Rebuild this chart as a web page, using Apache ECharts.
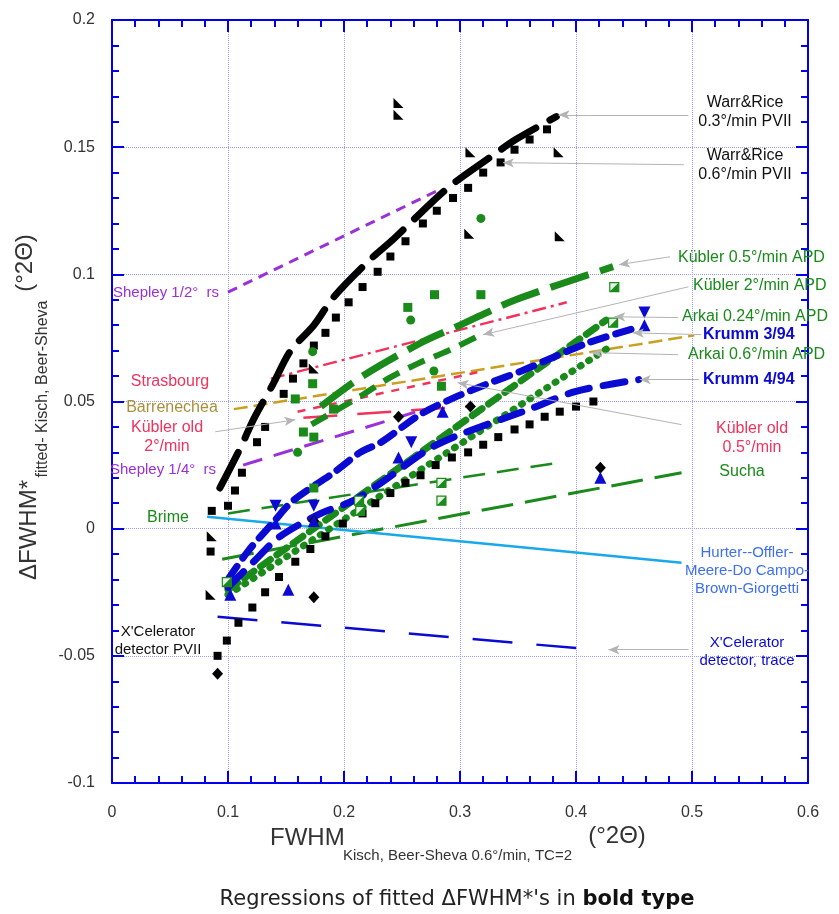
<!DOCTYPE html>
<html>
<head>
<meta charset="utf-8">
<script src="https://cdn.jsdelivr.net/npm/echarts@6/dist/echarts.min.js"></script>
<style>
  html, body { margin: 0; padding: 0; background: #fff; }
  #main { width: 839px; height: 914px; }
</style>
</head>
<body>
<div id="main"></div>
<script>
// ===== 数据（x = FWHM, y = ΔFWHM*，单位 °2Θ） =====
// 回归线
var warrRice03 = [[0.093,0.016],[0.111,0.032],[0.122,0.043],[0.139,0.057],[0.154,0.070],[0.174,0.080],[0.191,0.091],[0.223,0.106],[0.243,0.114],[0.275,0.128],[0.295,0.136],[0.329,0.147],[0.348,0.153],[0.383,0.162]];
var shepleyHalf = [[0.100,0.093],[0.281,0.133]];
var shepleyQuarter = [[0.113,0.025],[0.277,0.048]];
var strasbourg = [[0.137,0.059],[0.392,0.089]];
var barrenechea = [[0.105,0.047],[0.502,0.076]];
var kublerOld2 = [[0.165,0.0436],[0.305,0.048]];
var kublerOld05 = [[0.160,0.046],[0.320,0.062]];
var kubler05APD = [[0.180,0.048],[0.216,0.060],[0.266,0.073],[0.300,0.080],[0.348,0.090],[0.432,0.103]];
var kubler2APD = [[0.172,0.041],[0.214,0.052],[0.238,0.059],[0.264,0.065],[0.290,0.070],[0.320,0.0767]];
var arkai024 = [[0.100,-0.024],[0.426,0.082]];
var arkai06 = [[0.100,-0.026],[0.432,0.0723]];
var krumm394 = [[0.100,-0.020],[0.117,-0.009],[0.140,0.003],[0.156,0.011],[0.191,0.022],[0.214,0.030],[0.232,0.034],[0.266,0.045],[0.295,0.0515],[0.324,0.057],[0.353,0.062],[0.381,0.0675],[0.410,0.073],[0.452,0.079]];
var krumm494 = [[0.100,-0.023],[0.122,-0.013],[0.145,-0.003],[0.180,0.006],[0.208,0.011],[0.232,0.018],[0.272,0.031],[0.300,0.037],[0.360,0.047],[0.400,0.054],[0.454,0.0586]];
var brime = [[0.100,0.006],[0.386,0.026]];
var sucha = [[0.095,-0.012],[0.491,0.022]];
var hurter = [[0.082,0.0047],[0.491,-0.0134]];
var xcelTrace = [[0.091,-0.0346],[0.416,-0.0476]];

// 数据点
var warrSquares = [[0.085,-0.009],[0.086,0.007],[0.100,0.009],[0.106,0.015],[0.112,0.022],[0.125,0.034],[0.132,0.040],[0.148,0.053],[0.156,0.059],[0.165,0.065],[0.174,0.072],[0.184,0.077],[0.193,0.083],[0.204,0.089],[0.216,0.095],[0.229,0.101],[0.240,0.107],[0.253,0.113],[0.268,0.120],[0.280,0.125],[0.294,0.130],[0.307,0.134],[0.320,0.140],[0.335,0.144],[0.347,0.149],[0.360,0.153],[0.375,0.157]];
var xcelSquares = [[0.091,-0.050],[0.099,-0.044],[0.109,-0.037],[0.121,-0.031],[0.132,-0.025],[0.144,-0.019],[0.158,-0.013],[0.171,-0.008],[0.184,-0.003],[0.199,0.002],[0.216,0.006],[0.227,0.010],[0.240,0.014],[0.253,0.018],[0.266,0.021],[0.279,0.025],[0.293,0.028],[0.307,0.030],[0.320,0.033],[0.333,0.036],[0.347,0.039],[0.360,0.041],[0.373,0.044],[0.386,0.046],[0.400,0.048],[0.415,0.050]];
var blackTriangles = [[0.247,0.1674],[0.247,0.1627],[0.309,0.148],[0.385,0.148],[0.308,0.116],[0.386,0.115],[0.085,-0.026],[0.086,-0.003],[0.174,0.063]];
var blackDiamonds = [[0.091,-0.057],[0.174,-0.027],[0.174,0.003],[0.247,0.044],[0.309,0.048],[0.421,0.024]];
var blueUp = [[0.102,-0.026],[0.152,-0.024],[0.141,0.002],[0.174,0.003],[0.247,0.028],[0.285,0.046],[0.421,0.020],[0.459,0.080]];
var blueDown = [[0.141,0.009],[0.174,0.009],[0.258,0.034],[0.459,0.085]];
var greenSquares = [[0.158,0.051],[0.173,0.057],[0.191,0.047],[0.165,0.038],[0.174,0.036],[0.174,0.016],[0.255,0.087],[0.278,0.092],[0.318,0.092],[0.284,0.056]];
var greenCircles = [[0.318,0.122],[0.2775,0.062],[0.160,0.030],[0.2575,0.082],[0.173,0.0696]];
var greenHalf = [[0.433,0.095],[0.432,0.081],[0.284,0.018],[0.284,0.011],[0.213,0.011],[0.214,0.007],[0.099,-0.021]];

// 箭头（起点 -> 终点）
var arrows = [
  [[0.497,0.1627],[0.385,0.1627]],
  [[0.493,0.1431],[0.337,0.1439]],
  [[0.481,0.1069],[0.437,0.1038]],
  [[0.497,0.0951],[0.320,0.0763]],
  [[0.488,0.0830],[0.433,0.0833]],
  [[0.508,0.0763],[0.449,0.0770]],
  [[0.488,0.0684],[0.413,0.0692]],
  [[0.506,0.0586],[0.455,0.0586]],
  [[0.491,0.0409],[0.298,0.0574]],
  [[0.089,0.0381],[0.158,0.0428]],
  [[0.497,-0.0476],[0.428,-0.0476]]
];

var FONT = '"Liberation Sans", Arial, sans-serif';
var GREEN = '#1a8a1a', BLUE = '#0a0ad2', PINK = '#f0335c', GOLD = '#c8a01e',
    PURPLE = '#9b30d8', CYAN = '#19a8e8', FRAME = '#0000ee';

// 注释文字（像素位置）
var notes = [
  { t: 'Warr&Rice\n0.3°/min PVII', x: 745, y: 112, c: '#111', a: 'center' },
  { t: 'Warr&Rice\n0.6°/min PVII', x: 745, y: 165, c: '#111', a: 'center' },
  { t: 'Kübler 0.5°/min APD', x: 678, y: 258, c: GREEN, a: 'left' },
  { t: 'Kübler 2°/min APD', x: 693, y: 286, c: GREEN, a: 'left' },
  { t: 'Arkai 0.24°/min APD', x: 682, y: 317, c: GREEN, a: 'left' },
  { t: 'Krumm 3/94', x: 703, y: 335, c: BLUE, a: 'left', b: true },
  { t: 'Arkai 0.6°/min APD', x: 688, y: 355, c: GREEN, a: 'left' },
  { t: 'Krumm 4/94', x: 703, y: 380, c: BLUE, a: 'left', b: true },
  { t: 'Kübler old\n0.5°/min', x: 752, y: 438, c: PINK, a: 'center' },
  { t: 'Sucha', x: 742, y: 472, c: GREEN, a: 'center' },
  { t: 'Hurter--Offler-\nMeere-Do Campo-\nBrown-Giorgetti', x: 747, y: 571, c: '#3d6ff0', a: 'center', s: 15 },
  { t: "X'Celerator\ndetector, trace", x: 747, y: 652, c: BLUE, a: 'center', s: 15 },
  { t: 'Shepley 1/2°  rs', x: 113, y: 293, c: PURPLE, a: 'left', s: 15 },
  { t: 'Strasbourg', x: 170, y: 382, c: PINK, a: 'center' },
  { t: 'Barrenechea', x: 172, y: 408, c: '#a8903a', a: 'center' },
  { t: 'Kübler old\n2°/min', x: 167, y: 437, c: PINK, a: 'center' },
  { t: 'Shepley 1/4°  rs', x: 110, y: 470, c: PURPLE, a: 'left', s: 15 },
  { t: 'Brime', x: 168, y: 518, c: GREEN, a: 'center' },
  { t: "X'Celerator\ndetector PVII", x: 158, y: 641, c: '#111', a: 'center', s: 15 }
];

// ===== 工具函数 =====
function reg(name, data, color, width, dash, smooth, cap) {
  return {
    name: name, type: 'line', data: data, symbol: 'none', smooth: smooth || false,
    lineStyle: { color: color, width: width, type: dash, cap: cap || 'butt', opacity: 1 },
    silent: true, z: 3
  };
}
function pts(name, data, symbol, size, color, rotate, extra) {
  var s = {
    name: name, type: 'scatter', data: data, symbol: symbol, symbolSize: size,
    symbolRotate: rotate || 0, itemStyle: { color: color, opacity: 1 }, silent: true, z: 4
  };
  if (extra) Object.assign(s.itemStyle, extra);
  return s;
}
function textEl(n) {
  return {
    type: 'text', x: n.x, y: n.y, z: 10,
    style: {
      text: n.t, fill: n.c, fontSize: n.s || 16, fontFamily: FONT,
      fontWeight: n.b ? 'bold' : 'normal', lineHeight: (n.s || 16) + 3,
      align: n.a, verticalAlign: 'middle', textAlign: n.a, textVerticalAlign: 'middle'
    }
  };
}

var tickAxis = {
  axisLine: { show: true, onZero: false, lineStyle: { color: FRAME, width: 2 } },
  axisTick: { show: true, inside: true, length: 12, lineStyle: { color: FRAME, width: 2 } },
  minorTick: { show: true, splitNumber: 5, length: 7, lineStyle: { color: FRAME, width: 2 } }
};

var chart = echarts.init(document.getElementById('main'), null, { renderer: 'canvas' });

var graphics = notes.map(textEl);
// 坐标轴标题
graphics.push(
  { type: 'text', x: 29, y: 530, rotation: Math.PI / 2,
    style: { text: 'ΔFWHM*', fill: '#333', fontSize: 24, fontFamily: FONT, align: 'center', verticalAlign: 'middle', textAlign: 'center', textVerticalAlign: 'middle' } },
  { type: 'text', x: 43, y: 389, rotation: Math.PI / 2,
    style: { text: 'fitted- Kisch, Beer-Sheva', fill: '#333', fontSize: 16, fontFamily: FONT, align: 'center', verticalAlign: 'middle', textAlign: 'center', textVerticalAlign: 'middle' } },
  { type: 'text', x: 25, y: 263, rotation: Math.PI / 2,
    style: { text: '(°2Θ)', fill: '#333', fontSize: 24, fontFamily: FONT, align: 'center', verticalAlign: 'middle', textAlign: 'center', textVerticalAlign: 'middle' } },
  { type: 'text', x: 270, y: 838,
    style: { text: 'FWHM', fill: '#333', fontSize: 24, fontFamily: FONT, align: 'left', verticalAlign: 'middle', textAlign: 'left', textVerticalAlign: 'middle' } },
  { type: 'text', x: 343, y: 856,
    style: { text: 'Kisch, Beer-Sheva 0.6°/min, TC=2', fill: '#333', fontSize: 15, fontFamily: FONT, align: 'left', verticalAlign: 'middle', textAlign: 'left', textVerticalAlign: 'middle' } },
  { type: 'text', x: 617, y: 836,
    style: { text: '(°2Θ)', fill: '#333', fontSize: 24, fontFamily: FONT, align: 'center', verticalAlign: 'middle', textAlign: 'center', textVerticalAlign: 'middle' } },
  { type: 'text', x: 457, y: 900,
    style: { text: "Regressions of fitted ΔFWHM*'s in {b|bold type}", fill: '#222', fontSize: 21,
      fontFamily: '"DejaVu Sans", sans-serif', align: 'center', verticalAlign: 'middle', textAlign: 'center', textVerticalAlign: 'middle',
      rich: { b: { fontWeight: 'bold', fontSize: 21, fontFamily: '"DejaVu Sans", sans-serif', fill: '#111', color: '#111' } } } }
);

var hurterSeries = reg('Hurter', hurter, CYAN, 2.5, 'solid');
hurterSeries.markLine = {
  silent: true, symbol: ['none', 'arrow'], symbolSize: [7, 11],
  label: { show: false },
  lineStyle: { color: '#b4b4b4', width: 1, type: 'solid' },
  data: arrows.map(function (a) { return [{ coord: a[0] }, { coord: a[1] }]; })
};

var option = {
  animation: false,
  backgroundColor: '#fff',
  grid: { left: 112, top: 20, right: 31, bottom: 131, containLabel: false },
  xAxis: [
    Object.assign({
      type: 'value', min: 0, max: 0.6, interval: 0.1, position: 'bottom',
      axisLabel: { color: '#333', fontSize: 16, fontFamily: FONT, margin: 22 },
      splitLine: { show: true, lineStyle: { color: '#9a9aff', type: 'dotted', width: 1 } }
    }, tickAxis),
    Object.assign({
      type: 'value', min: 0, max: 0.6, interval: 0.1, position: 'top',
      axisLabel: { show: false }, splitLine: { show: false }
    }, tickAxis)
  ],
  yAxis: [
    Object.assign({
      type: 'value', min: -0.1, max: 0.2, interval: 0.05, position: 'left',
      axisLabel: { color: '#333', fontSize: 16, fontFamily: FONT, margin: 17 },
      splitLine: { show: true, lineStyle: { color: '#9a9aff', type: 'dotted', width: 1 } }
    }, tickAxis),
    Object.assign({
      type: 'value', min: -0.1, max: 0.2, interval: 0.05, position: 'right',
      axisLabel: { show: false }, splitLine: { show: false }
    }, tickAxis)
  ],
  graphic: graphics,
  series: [
    reg('Shepley 1/2° rs', shepleyHalf, PURPLE, 3, [10, 7]),
    reg('Shepley 1/4° rs', shepleyQuarter, PURPLE, 3, [20, 12]),
    reg('Strasbourg', strasbourg, PINK, 2.5, [14, 5, 3, 5]),
    reg('Barrenechea', barrenechea, GOLD, 2.5, [14, 6]),
    reg('Kübler old 2°/min', kublerOld2, PINK, 2.5, [34, 20]),
    reg('Kübler old 0.5°/min', kublerOld05, PINK, 2.5, [8, 8]),
    reg('Brime', brime, GREEN, 2.5, [22, 12]),
    reg('Sucha', sucha, GREEN, 3, [32, 12]),
    hurterSeries,
    reg("X'Celerator trace", xcelTrace, BLUE, 2.5, [40, 24]),
    reg('Kübler 0.5°/min APD', kubler05APD, GREEN, 7, [40, 12], 0.3),
    reg('Kübler 2°/min APD', kubler2APD, GREEN, 6, [18, 10], 0.3),
    reg('Arkai 0.24°/min APD', arkai024, GREEN, 7, [12, 8], false, 'round'),
    reg('Arkai 0.6°/min APD', arkai06, GREEN, 7, [1, 9], false, 'round'),
    reg('Krumm 3/94', krumm394, BLUE, 7, [16, 10], 0.3, 'round'),
    reg('Krumm 4/94', krumm494, BLUE, 7, [22, 14], 0.3, 'round'),
    reg('Warr&Rice 0.3°/min PVII', warrRice03, '#000', 7, [40, 16], 0.3, 'round'),
    pts('Warr&Rice squares', warrSquares, 'rect', 8, '#000'),
    pts("X'Celerator squares", xcelSquares, 'rect', 8, '#000'),
    pts('black triangles', blackTriangles, 'path://M0,0L0,10L10,10Z', 10, '#000'),
    pts('black diamonds', blackDiamonds, 'diamond', [11, 12], '#000'),
    pts('blue up', blueUp, 'triangle', 12, BLUE),
    pts('blue down', blueDown, 'triangle', 12, BLUE, 180),
    pts('green squares', greenSquares, 'rect', 9, GREEN),
    pts('green circles', greenCircles, 'circle', 9, GREEN),
    pts('green half open', greenHalf, 'rect', 9, '#e8f4e8', 0, { borderColor: GREEN, borderWidth: 1.2 }),
    pts('green half fill', greenHalf, 'path://M10,0L10,10L0,10Z', 9, GREEN)
  ]
};

chart.setOption(option);
</script>
</body>
</html>
